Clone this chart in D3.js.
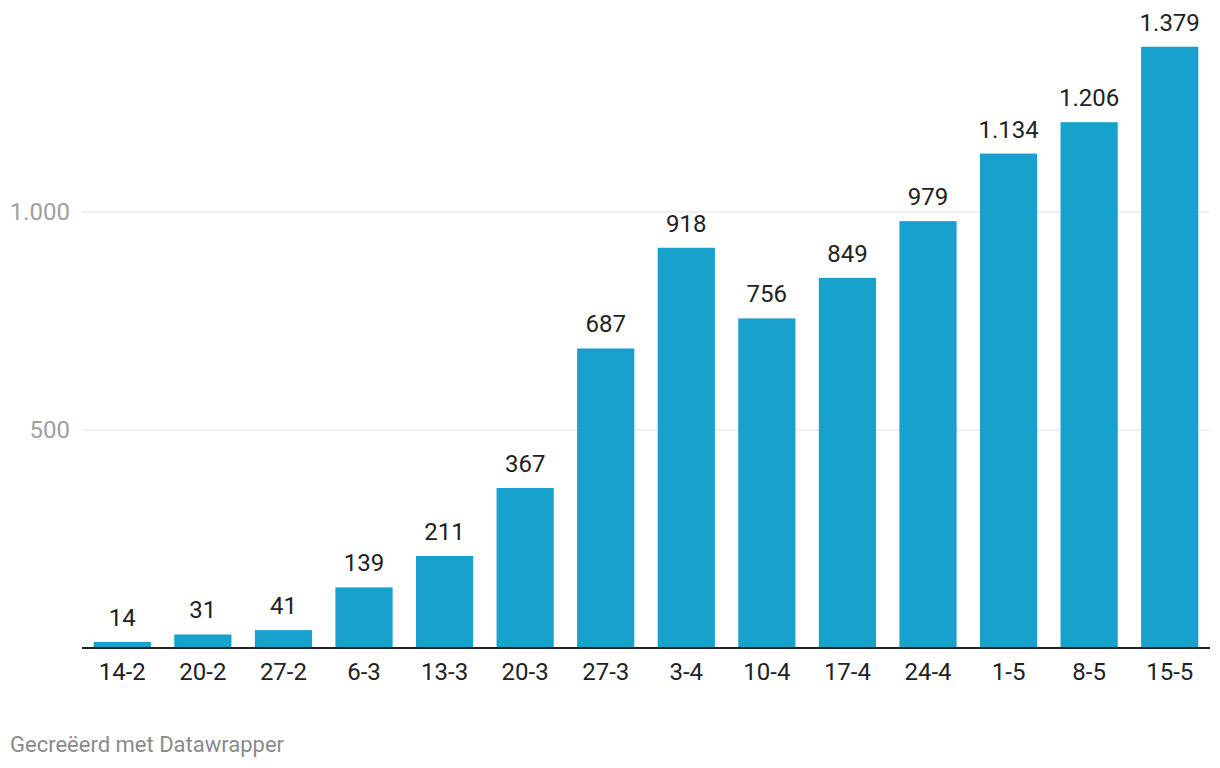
<!DOCTYPE html>
<html>
<head>
<meta charset="utf-8">
<script src="https://cdn.jsdelivr.net/npm/d3@7"></script>
<style>
  body { margin: 0; background: #fff; font-family: Roboto, "Noto Sans", sans-serif; }
</style>
</head>
<body>
<div id="chart"></div>
<script>
var weeks = ["14-2","20-2","27-2","6-3","13-3","20-3","27-3","3-4","10-4","17-4","24-4","1-5","8-5","15-5"];
var values = [14, 31, 41, 139, 211, 367, 687, 918, 756, 849, 979, 1134, 1206, 1379];
var yTicks = [500, 1000];

var w = 1220, h = 768;
var margin = {top: 0, left: 82, right: 10, bottom: 120};

var fmt = d3.formatLocale({decimal: ",", thousands: ".", grouping: [3], currency: ["€", ""]}).format(",d");

var svg = d3.select("#chart")
    .append("svg")
    .attr("width", w)
    .attr("height", h);

// x scale - the weeks
var xscale = d3.scaleBand()
    .domain(weeks)
    .range([margin.left, w - margin.right])
    .paddingInner(0.29)
    .paddingOuter(0.145);

// y scale - 0 sits on the baseline
var yscale = d3.scaleLinear()
    .domain([0, 1000])
    .range([648, 212]);

// gridlines
svg.append("g")
    .selectAll("line")
    .data(yTicks)
    .enter()
    .append("line")
    .attr("x1", margin.left)
    .attr("x2", w - margin.right)
    .attr("y1", d => yscale(d))
    .attr("y2", d => yscale(d))
    .attr("stroke", "#e1e1e1")
    .attr("stroke-width", 1);

// y labels
svg.append("g")
    .selectAll("text")
    .data(yTicks)
    .enter()
    .append("text")
    .attr("x", 70)
    .attr("y", d => yscale(d))
    .attr("dy", "0.35em")
    .attr("text-anchor", "end")
    .attr("fill", "#a0a0a0")
    .attr("font-size", 24)
    .text(d => fmt(d));

// bars
svg.append("g")
    .selectAll("rect")
    .data(values)
    .enter()
    .append("rect")
    .attr("x", (d, i) => xscale(weeks[i]))
    .attr("y", d => yscale(d))
    .attr("width", xscale.bandwidth())
    .attr("height", d => yscale(0) - yscale(d))
    .attr("fill", "#18a1cd");

// value labels
svg.append("g")
    .selectAll("text")
    .data(values)
    .enter()
    .append("text")
    .attr("x", (d, i) => xscale(weeks[i]) + xscale.bandwidth() / 2)
    .attr("y", d => yscale(d) - 16)
    .attr("text-anchor", "middle")
    .attr("fill", "#222")
    .attr("font-size", 24)
    .text(d => fmt(d));

// x axis
var xaxis = svg.append("g")
    .attr("transform", "translate(0," + yscale(0) + ")")
    .call(d3.axisBottom(xscale).tickSize(0).tickPadding(15));
xaxis.select(".domain").attr("stroke", "#222").attr("stroke-width", 2)
    .attr("d", "M" + margin.left + ",0H" + (w - margin.right));
xaxis.selectAll("text")
    .attr("font-family", "Roboto, sans-serif")
    .attr("font-size", 24)
    .attr("fill", "#222");

// footer
svg.append("text")
    .attr("x", 10)
    .attr("y", 752)
    .attr("fill", "#8a8a8a")
    .attr("font-size", 22)
    .text("Gecreëerd met Datawrapper");
</script>
</body>
</html>
